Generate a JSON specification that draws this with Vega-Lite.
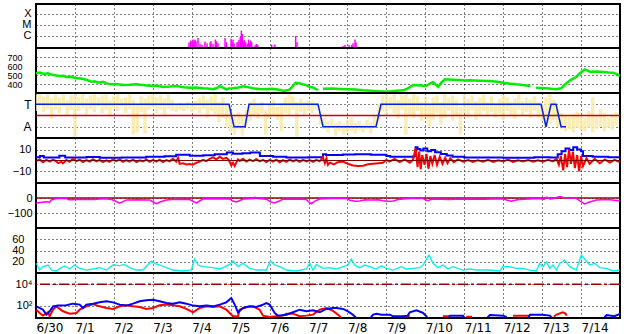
{
"$schema": "https://vega.github.io/schema/vega-lite/v6.json",
"background": "white",
"padding": {"left": 5, "top": 3, "right": 6, "bottom": 0},
"autosize": {"type": "pad"},
"spacing": 0,
"bounds": "flush",
"config": {
  "view": {"stroke": "#000", "strokeWidth": 2},
  "concat": {"spacing": 0},
  "axis": {"domain": false, "ticks": false, "title": null, "grid": true, "gridColor": "#000", "gridDash": [1, 3], "gridWidth": 1, "gridOpacity": 1, "labelFont": "Liberation Sans", "labelFontSize": 11, "labelColor": "#000", "labelFlush": false, "labelOverlap": false},
  "axisY": {"minExtent": 28, "maxExtent": 28}
},
"datasets": {
  "xray": [
    {"d":3.93,"f":-6.61},{"d":3.973,"f":-6.42},{"d":4.007,"f":-6.49},{"d":4.033,"f":-6.33},{"d":4.059,"f":-6.42},{"d":4.084,"f":-6.36},{"d":4.11,"f":-6.49},{"d":4.161,"f":-6.18},{"d":4.213,"f":-6.73},{"d":4.264,"f":-6.82},{"d":4.341,"f":-6.52},{"d":4.393,"f":-6.67},{"d":4.47,"f":-6.61},{"d":4.495,"f":-6.49},{"d":4.547,"f":-6.73},{"d":4.607,"f":-6.33},{"d":4.633,"f":-6.49},{"d":4.675,"f":-6.67},{"d":4.855,"f":-6.18},{"d":4.889,"f":-6.58},{"d":5.009,"f":-6.27},{"d":5.035,"f":-6.58},{"d":5.06,"f":-6.36},{"d":5.086,"f":-6.67},{"d":5.163,"f":-6.58},{"d":5.189,"f":-6.55},{"d":5.214,"f":-6.36},{"d":5.248,"f":-6.06},{"d":5.274,"f":-5.52},{"d":5.3,"f":-5.82},{"d":5.325,"f":-6.58},{"d":5.351,"f":-6.39},{"d":5.386,"f":-6.58},{"d":5.428,"f":-6.73},{"d":5.462,"f":-6.33},{"d":5.488,"f":-6.67},{"d":5.514,"f":-6.42},{"d":5.539,"f":-6.58},{"d":5.626,"f":-6.85},{"d":5.66,"f":-6.73},{"d":5.694,"f":-6.82},{"d":6.054,"f":-6.79},{"d":6.131,"f":-6.79},{"d":6.67,"f":-6.0},{"d":6.704,"f":-6.58},{"d":7.886,"f":-6.91},{"d":7.937,"f":-6.82},{"d":8.04,"f":-6.82},{"d":8.109,"f":-6.82},{"d":8.143,"f":-6.67},{"d":8.194,"f":-6.33},{"d":8.22,"f":-6.61}
  ],
  "speed": [
    {"d":0,"v":520},{"d":0.1,"v":528},{"d":0.2,"v":512},{"d":0.3,"v":518},{"d":0.4,"v":505},{"d":0.52,"v":495},{"d":0.6,"v":488},{"d":0.7,"v":492},{"d":0.78,"v":478},{"d":0.9,"v":480},{"d":1.04,"v":463},{"d":1.15,"v":462},{"d":1.29,"v":448},{"d":1.42,"v":426},{"d":1.5,"v":430},{"d":1.6,"v":414},{"d":1.72,"v":425},{"d":1.8,"v":410},{"d":1.9,"v":396},{"d":2.05,"v":400},{"d":2.24,"v":389},{"d":2.4,"v":392},{"d":2.58,"v":398},{"d":2.8,"v":385},{"d":3.0,"v":378},{"d":3.1,"v":382},{"d":3.26,"v":367},{"d":3.45,"v":372},{"d":3.6,"v":378},{"d":3.8,"v":365},{"d":3.95,"v":359},{"d":4.1,"v":362},{"d":4.29,"v":352},{"d":4.4,"v":350},{"d":4.55,"v":341},{"d":4.65,"v":355},{"d":4.72,"v":378},{"d":4.8,"v":360},{"d":4.89,"v":341},{"d":4.95,"v":350},{"d":5.06,"v":352},{"d":5.2,"v":362},{"d":5.32,"v":374},{"d":5.45,"v":365},{"d":5.57,"v":352},{"d":5.75,"v":345},{"d":5.92,"v":341},{"d":6.05,"v":348},{"d":6.17,"v":341},{"d":6.3,"v":330},{"d":6.35,"v":322},{"d":6.45,"v":330},{"d":6.52,"v":341},{"d":6.6,"v":380},{"d":6.67,"v":414},{"d":6.76,"v":408},{"d":6.86,"v":396},{"d":6.95,"v":385},{"d":7.03,"v":367},{"d":7.12,"v":362},{"d":7.24,"v":330},{"d":7.3,"v":null},{"d":7.37,"v":348},{"d":7.6,"v":350},{"d":7.8,"v":345},{"d":8.01,"v":341},{"d":8.2,"v":338},{"d":8.4,"v":330},{"d":8.6,"v":325},{"d":8.8,"v":320},{"d":8.99,"v":315},{"d":9.2,"v":322},{"d":9.43,"v":330},{"d":9.55,"v":350},{"d":9.68,"v":389},{"d":9.8,"v":385},{"d":10.02,"v":378},{"d":10.1,"v":400},{"d":10.2,"v":422},{"d":10.33,"v":367},{"d":10.42,"v":420},{"d":10.51,"v":452},{"d":10.7,"v":448},{"d":10.89,"v":444},{"d":11.0,"v":440},{"d":11.15,"v":441},{"d":11.4,"v":436},{"d":11.66,"v":433},{"d":11.85,"v":425},{"d":12.0,"v":414},{"d":12.15,"v":405},{"d":12.33,"v":396},{"d":12.5,"v":390},{"d":12.7,"v":378},{"d":12.78,"v":null},{"d":12.84,"v":359},{"d":13.1,"v":352},{"d":13.36,"v":341},{"d":13.49,"v":352},{"d":13.6,"v":400},{"d":13.72,"v":441},{"d":13.8,"v":460},{"d":13.87,"v":478},{"d":14.0,"v":530},{"d":14.1,"v":563},{"d":14.23,"v":537},{"d":14.4,"v":540},{"d":14.57,"v":533},{"d":14.7,"v":528},{"d":14.82,"v":525},{"d":14.92,"v":510},{"d":15.0,"v":489}
  ],
  "yellow": [
    {"d":0.0,"lo":2.4,"hi":3.9},{"d":0.1,"lo":2.9,"hi":3.9},{"d":0.2,"lo":2.3,"hi":3.7},{"d":0.3,"lo":2.6,"hi":3.9},{"d":0.4,"lo":1.7,"hi":3.5},{"d":0.5,"lo":2.5,"hi":3.9},{"d":0.6,"lo":2.2,"hi":3.6},{"d":0.7,"lo":2.8,"hi":3.9},{"d":0.8,"lo":2.0,"hi":3.4},{"d":0.9,"lo":2.5,"hi":3.8},{"d":1.0,"lo":0.1,"hi":3.9},{"d":1.1,"lo":2.4,"hi":3.6},{"d":1.2,"lo":2.7,"hi":3.9},{"d":1.3,"lo":2.1,"hi":3.5},{"d":1.4,"lo":2.6,"hi":3.8},{"d":1.5,"lo":2.3,"hi":3.9},{"d":1.6,"lo":2.8,"hi":3.6},{"d":1.7,"lo":2.2,"hi":3.8},{"d":1.8,"lo":2.5,"hi":3.9},{"d":1.9,"lo":1.9,"hi":3.4},{"d":2.0,"lo":2.6,"hi":3.7},{"d":2.1,"lo":2.4,"hi":3.9},{"d":2.2,"lo":2.8,"hi":3.5},{"d":2.3,"lo":2.2,"hi":3.6},{"d":2.4,"lo":2.6,"hi":3.9},{"d":2.5,"lo":0.3,"hi":3.4},{"d":2.6,"lo":0.5,"hi":3.0},{"d":2.7,"lo":2.3,"hi":3.7},{"d":2.8,"lo":0.4,"hi":3.5},{"d":2.9,"lo":2.5,"hi":3.8},{"d":3.0,"lo":2.7,"hi":3.9},{"d":3.1,"lo":2.2,"hi":3.6},{"d":3.2,"lo":2.5,"hi":3.8},{"d":3.3,"lo":2.0,"hi":3.5},{"d":3.4,"lo":2.6,"hi":3.9},{"d":3.5,"lo":2.4,"hi":3.4},{"d":3.6,"lo":2.3,"hi":3.0},{"d":3.7,"lo":2.5,"hi":3.1},{"d":3.8,"lo":2.4,"hi":3.0},{"d":3.9,"lo":2.6,"hi":3.2},{"d":4.0,"lo":2.3,"hi":3.0},{"d":4.1,"lo":2.5,"hi":3.3},{"d":4.2,"lo":2.2,"hi":3.6},{"d":4.3,"lo":2.6,"hi":3.8},{"d":4.4,"lo":1.8,"hi":3.4},{"d":4.5,"lo":2.4,"hi":3.7},{"d":4.6,"lo":2.1,"hi":3.9},{"d":4.7,"lo":1.4,"hi":3.2},{"d":4.8,"lo":1.8,"hi":3.6},{"d":4.9,"lo":1.0,"hi":3.0},{"d":5.0,"lo":0.5,"hi":2.4},{"d":5.1,"lo":0.3,"hi":1.9},{"d":5.2,"lo":0.8,"hi":2.3},{"d":5.3,"lo":0.2,"hi":2.0},{"d":5.4,"lo":1.0,"hi":2.5},{"d":5.5,"lo":1.5,"hi":3.2},{"d":5.6,"lo":2.0,"hi":3.5},{"d":5.7,"lo":1.7,"hi":3.0},{"d":5.8,"lo":2.2,"hi":3.2},{"d":5.9,"lo":0.3,"hi":2.5},{"d":6.0,"lo":1.8,"hi":3.0},{"d":6.1,"lo":2.0,"hi":3.4},{"d":6.2,"lo":1.6,"hi":2.8},{"d":6.3,"lo":0.6,"hi":3.1},{"d":6.4,"lo":2.2,"hi":3.6},{"d":6.5,"lo":2.0,"hi":3.9},{"d":6.6,"lo":2.5,"hi":3.7},{"d":6.7,"lo":0.1,"hi":3.2},{"d":6.8,"lo":2.3,"hi":3.5},{"d":6.9,"lo":2.0,"hi":3.2},{"d":7.0,"lo":2.4,"hi":3.4},{"d":7.1,"lo":2.2,"hi":3.3},{"d":7.2,"lo":2.5,"hi":3.1},{"d":7.3,"lo":1.2,"hi":2.1},{"d":7.4,"lo":0.8,"hi":1.8},{"d":7.5,"lo":0.5,"hi":1.5},{"d":7.6,"lo":0.9,"hi":1.7},{"d":7.7,"lo":0.2,"hi":1.3},{"d":7.8,"lo":0.6,"hi":1.5},{"d":7.9,"lo":0.3,"hi":1.2},{"d":8.0,"lo":0.5,"hi":1.6},{"d":8.1,"lo":0.6,"hi":1.8},{"d":8.2,"lo":0.4,"hi":1.3},{"d":8.3,"lo":0.7,"hi":1.5},{"d":8.4,"lo":0.5,"hi":1.2},{"d":8.5,"lo":0.8,"hi":1.6},{"d":8.6,"lo":0.4,"hi":1.4},{"d":8.7,"lo":0.9,"hi":2.0},{"d":8.8,"lo":1.5,"hi":3.0},{"d":8.9,"lo":2.4,"hi":3.8},{"d":9.0,"lo":2.0,"hi":3.9},{"d":9.1,"lo":2.6,"hi":3.6},{"d":9.2,"lo":2.2,"hi":3.9},{"d":9.3,"lo":1.7,"hi":3.4},{"d":9.4,"lo":2.5,"hi":3.8},{"d":9.5,"lo":0.3,"hi":3.9},{"d":9.6,"lo":2.0,"hi":3.5},{"d":9.7,"lo":1.8,"hi":3.9},{"d":9.8,"lo":2.4,"hi":3.7},{"d":9.9,"lo":1.5,"hi":3.2},{"d":10.0,"lo":1.9,"hi":3.6},{"d":10.1,"lo":1.0,"hi":3.0},{"d":10.2,"lo":1.6,"hi":3.6},{"d":10.3,"lo":2.2,"hi":3.8},{"d":10.4,"lo":1.2,"hi":3.2},{"d":10.5,"lo":1.8,"hi":3.9},{"d":10.6,"lo":2.4,"hi":3.6},{"d":10.7,"lo":1.5,"hi":3.8},{"d":10.8,"lo":2.0,"hi":3.4},{"d":10.9,"lo":0.3,"hi":2.8},{"d":11.0,"lo":2.2,"hi":3.9},{"d":11.1,"lo":1.8,"hi":3.5},{"d":11.2,"lo":2.5,"hi":3.8},{"d":11.3,"lo":1.6,"hi":3.3},{"d":11.4,"lo":2.0,"hi":3.6},{"d":11.5,"lo":2.4,"hi":3.9},{"d":11.6,"lo":1.9,"hi":3.2},{"d":11.7,"lo":2.3,"hi":3.7},{"d":11.8,"lo":1.8,"hi":3.0},{"d":11.9,"lo":2.2,"hi":3.5},{"d":12.0,"lo":1.6,"hi":3.8},{"d":12.1,"lo":2.4,"hi":3.6},{"d":12.2,"lo":2.0,"hi":3.2},{"d":12.3,"lo":1.7,"hi":3.5},{"d":12.4,"lo":2.5,"hi":3.9},{"d":12.5,"lo":2.0,"hi":3.3},{"d":12.6,"lo":2.3,"hi":3.6},{"d":12.7,"lo":1.8,"hi":3.4},{"d":12.8,"lo":2.4,"hi":3.7},{"d":12.9,"lo":1.8,"hi":3.2},{"d":13.0,"lo":1.5,"hi":3.0},{"d":13.1,"lo":1.0,"hi":3.6},{"d":13.2,"lo":1.2,"hi":3.9},{"d":13.3,"lo":1.6,"hi":3.4},{"d":13.4,"lo":1.0,"hi":2.6},{"d":13.5,"lo":0.8,"hi":2.2},{"d":13.6,"lo":0.6,"hi":2.0},{"d":13.7,"lo":0.8,"hi":1.9},{"d":13.8,"lo":0.5,"hi":2.1},{"d":13.9,"lo":0.9,"hi":2.3},{"d":14.0,"lo":0.7,"hi":2.0},{"d":14.1,"lo":0.6,"hi":1.8},{"d":14.2,"lo":0.9,"hi":2.4},{"d":14.3,"lo":0.5,"hi":3.6},{"d":14.4,"lo":0.8,"hi":2.0},{"d":14.5,"lo":1.0,"hi":2.6},{"d":14.6,"lo":0.6,"hi":2.2},{"d":14.7,"lo":0.9,"hi":1.8},{"d":14.8,"lo":0.7,"hi":2.1},{"d":14.9,"lo":1.1,"hi":2.3}
  ],
  "sector": [
    {"d":0,"s":3},{"d":4.958,"s":3},{"d":5.086,"s":1},{"d":5.369,"s":1},{"d":5.471,"s":3},{"d":7.244,"s":3},{"d":7.372,"s":1},{"d":8.734,"s":1},{"d":8.862,"s":3},{"d":12.972,"s":3},{"d":13.1,"s":1},{"d":13.229,"s":3},{"d":13.357,"s":3},{"d":13.486,"s":1},{"d":13.614,"s":1}
  ],
  "bt": [
    {"d":0.0,"v":3.0},{"d":0.1,"v":4.0},{"d":0.2,"v":2.8},{"d":0.6,"v":4.3},{"d":0.75,"v":2.8},{"d":1.3,"v":3.2},{"d":1.64,"v":2.5},{"d":2.2,"v":2.8},{"d":2.83,"v":3.4},{"d":3.3,"v":3.8},{"d":3.6,"v":5.2},{"d":3.95,"v":4.3},{"d":4.3,"v":4.8},{"d":4.59,"v":5.8},{"d":4.9,"v":7.3},{"d":5.06,"v":6.2},{"d":5.3,"v":6.5},{"d":5.5,"v":7.4},{"d":5.75,"v":4.0},{"d":6.09,"v":3.5},{"d":6.43,"v":2.8},{"d":7.0,"v":3.0},{"d":7.37,"v":5.8},{"d":7.45,"v":4.9},{"d":7.88,"v":5.5},{"d":8.2,"v":5.8},{"d":8.6,"v":5.2},{"d":9.0,"v":4.0},{"d":9.1,"v":3.4},{"d":9.7,"v":4.0},{"d":9.75,"v":12.0},{"d":9.8,"v":10.5},{"d":9.87,"v":9.0},{"d":9.95,"v":11.0},{"d":10.05,"v":8.5},{"d":10.15,"v":9.5},{"d":10.25,"v":7.5},{"d":10.4,"v":6.0},{"d":10.55,"v":4.5},{"d":10.7,"v":3.5},{"d":11.0,"v":2.8},{"d":12.0,"v":2.5},{"d":12.8,"v":3.0},{"d":13.2,"v":2.8},{"d":13.4,"v":5.8},{"d":13.5,"v":8.5},{"d":13.6,"v":11.0},{"d":13.7,"v":9.5},{"d":13.8,"v":12.0},{"d":13.9,"v":10.0},{"d":14.0,"v":8.5},{"d":14.05,"v":4.0},{"d":14.3,"v":3.5},{"d":14.7,"v":3.0},{"d":15.0,"v":3.2}
  ],
  "bz": [
    {"d":0.009,"v":-0.5},{"d":0.094,"v":1.0},{"d":0.18,"v":-1.5},{"d":0.265,"v":0.5},{"d":0.351,"v":-1.0},{"d":0.437,"v":0.8},{"d":0.522,"v":-0.8},{"d":0.565,"v":-2.4},{"d":0.65,"v":-1.2},{"d":0.694,"v":-2.6},{"d":0.779,"v":0.5},{"d":0.865,"v":-1.2},{"d":0.95,"v":1.5},{"d":1.036,"v":-0.5},{"d":1.122,"v":0.8},{"d":1.207,"v":-1.4},{"d":1.293,"v":0.3},{"d":1.38,"v":-1.0},{"d":1.464,"v":1.2},{"d":1.55,"v":-0.8},{"d":1.635,"v":0.6},{"d":1.72,"v":-1.5},{"d":1.807,"v":0.2},{"d":1.89,"v":-1.2},{"d":1.978,"v":0.9},{"d":2.06,"v":-0.6},{"d":2.149,"v":1.0},{"d":2.23,"v":-1.3},{"d":2.32,"v":0.4},{"d":2.4,"v":-1.0},{"d":2.492,"v":0.8},{"d":2.58,"v":-1.4},{"d":2.663,"v":0.2},{"d":2.75,"v":-0.9},{"d":2.834,"v":1.0},{"d":2.92,"v":-1.2},{"d":3.005,"v":0.5},{"d":3.09,"v":-1.0},{"d":3.177,"v":0.8},{"d":3.26,"v":-1.5},{"d":3.348,"v":0.3},{"d":3.43,"v":-0.8},{"d":3.519,"v":1.5},{"d":3.6,"v":-1.0},{"d":3.65,"v":2.5},{"d":3.69,"v":-3.0},{"d":3.78,"v":-2.5},{"d":3.862,"v":-3.6},{"d":3.95,"v":-3.2},{"d":4.033,"v":-3.8},{"d":4.12,"v":-2.0},{"d":4.204,"v":-1.0},{"d":4.29,"v":0.5},{"d":4.375,"v":-0.6},{"d":4.46,"v":1.5},{"d":4.547,"v":2.8},{"d":4.63,"v":1.0},{"d":4.718,"v":3.5},{"d":4.8,"v":1.5},{"d":4.889,"v":2.5},{"d":4.95,"v":0.5},{"d":5.017,"v":-4.5},{"d":5.06,"v":-2.0},{"d":5.103,"v":-5.0},{"d":5.15,"v":-1.5},{"d":5.188,"v":1.0},{"d":5.231,"v":-0.5},{"d":5.317,"v":1.5},{"d":5.403,"v":-1.0},{"d":5.488,"v":0.8},{"d":5.574,"v":-0.5},{"d":5.66,"v":1.2},{"d":5.745,"v":-0.8},{"d":5.831,"v":0.5},{"d":5.916,"v":-1.4},{"d":6.002,"v":0.6},{"d":6.087,"v":-1.0},{"d":6.173,"v":0.8},{"d":6.259,"v":-1.6},{"d":6.345,"v":0.4},{"d":6.43,"v":-1.2},{"d":6.516,"v":0.9},{"d":6.601,"v":-0.7},{"d":6.687,"v":0.6},{"d":6.773,"v":-1.3},{"d":6.858,"v":0.5},{"d":6.944,"v":-0.8},{"d":7.03,"v":0.3},{"d":7.115,"v":-1.2},{"d":7.2,"v":0.6},{"d":7.287,"v":-0.8},{"d":7.37,"v":3.0},{"d":7.42,"v":-2.5},{"d":7.46,"v":2.0},{"d":7.5,"v":-4.0},{"d":7.55,"v":-2.0},{"d":7.65,"v":-3.5},{"d":7.75,"v":-1.5},{"d":7.885,"v":-1.0},{"d":8.01,"v":-3.0},{"d":8.14,"v":-4.5},{"d":8.27,"v":-5.0},{"d":8.4,"v":-4.8},{"d":8.53,"v":-3.5},{"d":8.66,"v":-3.0},{"d":8.79,"v":-2.5},{"d":8.91,"v":-2.0},{"d":9.0,"v":0.5},{"d":9.08,"v":-1.0},{"d":9.21,"v":1.5},{"d":9.34,"v":-1.5},{"d":9.47,"v":1.0},{"d":9.6,"v":-2.0},{"d":9.68,"v":0.5},{"d":9.75,"v":11.0},{"d":9.8,"v":-6.0},{"d":9.84,"v":8.0},{"d":9.88,"v":-8.0},{"d":9.92,"v":5.0},{"d":9.98,"v":-4.0},{"d":10.03,"v":6.0},{"d":10.08,"v":-7.5},{"d":10.13,"v":4.0},{"d":10.18,"v":-3.0},{"d":10.24,"v":5.0},{"d":10.3,"v":-4.0},{"d":10.37,"v":3.5},{"d":10.44,"v":-3.0},{"d":10.51,"v":2.5},{"d":10.57,"v":-2.5},{"d":10.64,"v":2.0},{"d":10.73,"v":-1.5},{"d":10.84,"v":1.0},{"d":10.97,"v":-1.0},{"d":11.1,"v":0.5},{"d":11.22,"v":-1.2},{"d":11.35,"v":0.3},{"d":11.48,"v":-1.0},{"d":11.61,"v":0.6},{"d":11.74,"v":-1.3},{"d":11.87,"v":0.2},{"d":12.0,"v":-0.8},{"d":12.12,"v":0.8},{"d":12.25,"v":-1.2},{"d":12.38,"v":0.2},{"d":12.51,"v":-0.8},{"d":12.64,"v":0.5},{"d":12.77,"v":-1.0},{"d":12.89,"v":0.2},{"d":13.02,"v":-1.2},{"d":13.15,"v":0.6},{"d":13.28,"v":-0.8},{"d":13.37,"v":1.5},{"d":13.43,"v":-4.0},{"d":13.48,"v":4.0},{"d":13.54,"v":-9.0},{"d":13.59,"v":6.0},{"d":13.64,"v":-6.0},{"d":13.69,"v":10.0},{"d":13.74,"v":-3.0},{"d":13.79,"v":8.0},{"d":13.84,"v":-7.0},{"d":13.9,"v":5.0},{"d":13.95,"v":-10.0},{"d":14.0,"v":4.0},{"d":14.05,"v":-5.0},{"d":14.14,"v":2.0},{"d":14.22,"v":-3.0},{"d":14.35,"v":1.5},{"d":14.48,"v":-2.5},{"d":14.61,"v":1.0},{"d":14.74,"v":-2.0},{"d":14.86,"v":0.5},{"d":14.99,"v":-1.5}
  ],
  "dst": [
    {"d":0.0,"v":-35},{"d":0.1,"v":-30},{"d":0.27,"v":-25},{"d":0.35,"v":-28},{"d":0.39,"v":-13},{"d":0.52,"v":-4},{"d":0.78,"v":-4},{"d":0.85,"v":-12},{"d":0.95,"v":-12},{"d":1.05,"v":-8},{"d":1.21,"v":-10},{"d":1.5,"v":-10},{"d":1.64,"v":-7},{"d":1.8,"v":-5},{"d":1.94,"v":-10},{"d":2.05,"v":-22},{"d":2.15,"v":-35},{"d":2.25,"v":-22},{"d":2.32,"v":-13},{"d":2.6,"v":-12},{"d":2.92,"v":-13},{"d":3.0,"v":-25},{"d":3.09,"v":-38},{"d":3.2,"v":-25},{"d":3.35,"v":-13},{"d":3.6,"v":-8},{"d":3.95,"v":-10},{"d":4.05,"v":-25},{"d":4.12,"v":-33},{"d":4.2,"v":-20},{"d":4.29,"v":-7},{"d":4.6,"v":-5},{"d":4.98,"v":-7},{"d":5.05,"v":-20},{"d":5.15,"v":-27},{"d":5.25,"v":-15},{"d":5.32,"v":-7},{"d":5.6,"v":-4},{"d":5.62,"v":5},{"d":5.7,"v":-4},{"d":5.92,"v":-8},{"d":6.02,"v":-25},{"d":6.13,"v":-33},{"d":6.25,"v":-20},{"d":6.34,"v":-9},{"d":6.7,"v":-7},{"d":6.94,"v":-10},{"d":7.0,"v":-25},{"d":7.07,"v":-38},{"d":7.15,"v":-22},{"d":7.29,"v":-7},{"d":7.63,"v":-3},{"d":8.0,"v":-3},{"d":8.06,"v":-15},{"d":8.2,"v":-22},{"d":8.31,"v":-20},{"d":8.45,"v":-12},{"d":8.57,"v":-13},{"d":8.8,"v":-12},{"d":8.91,"v":-18},{"d":9.05,"v":-22},{"d":9.17,"v":-20},{"d":9.3,"v":-10},{"d":9.43,"v":-7},{"d":9.6,"v":-3},{"d":9.94,"v":-3},{"d":10.0,"v":-12},{"d":10.07,"v":-18},{"d":10.15,"v":-8},{"d":10.2,"v":-7},{"d":10.6,"v":-10},{"d":11.0,"v":-7},{"d":11.5,"v":-8},{"d":12.0,"v":-5},{"d":12.1,"v":-15},{"d":12.21,"v":-22},{"d":12.33,"v":-14},{"d":12.42,"v":-10},{"d":12.8,"v":-5},{"d":12.94,"v":-3},{"d":13.05,"v":-10},{"d":13.11,"v":5},{"d":13.2,"v":-6},{"d":13.3,"v":-3},{"d":13.45,"v":10},{"d":13.55,"v":3},{"d":13.7,"v":0},{"d":13.88,"v":-2},{"d":14.0,"v":-25},{"d":14.09,"v":-40},{"d":14.2,"v":-28},{"d":14.39,"v":-13},{"d":14.7,"v":-10},{"d":15.0,"v":-20}
  ],
  "dens": [
    {"d":0.009,"v":17.2},{"d":0.094,"v":5.3},{"d":0.18,"v":11.3},{"d":0.308,"v":14.2},{"d":0.394,"v":5.3},{"d":0.522,"v":3.6},{"d":0.651,"v":9.5},{"d":0.737,"v":12.4},{"d":0.865,"v":7.1},{"d":0.993,"v":14.2},{"d":1.122,"v":8.3},{"d":1.293,"v":5.3},{"d":1.464,"v":7.1},{"d":1.635,"v":9.5},{"d":1.807,"v":5.3},{"d":1.978,"v":14.2},{"d":2.149,"v":13},{"d":2.277,"v":15.4},{"d":2.406,"v":9.5},{"d":2.577,"v":5.3},{"d":2.748,"v":5.3},{"d":2.962,"v":21.3},{"d":3.048,"v":17.2},{"d":3.177,"v":14.2},{"d":3.348,"v":9.5},{"d":3.519,"v":5.3},{"d":3.776,"v":3.6},{"d":3.99,"v":5.3},{"d":4.076,"v":24.9},{"d":4.161,"v":14.2},{"d":4.29,"v":11.3},{"d":4.547,"v":9.5},{"d":4.718,"v":7.1},{"d":4.975,"v":15.4},{"d":5.06,"v":21.3},{"d":5.188,"v":11.3},{"d":5.317,"v":17.2},{"d":5.488,"v":8.3},{"d":5.66,"v":5.3},{"d":5.916,"v":5.3},{"d":6.019,"v":21.3},{"d":6.13,"v":14.2},{"d":6.259,"v":11.3},{"d":6.43,"v":5.3},{"d":6.687,"v":3.6},{"d":6.944,"v":7.1},{"d":7.03,"v":17.2},{"d":7.115,"v":5.3},{"d":7.2,"v":15.4},{"d":7.372,"v":8.3},{"d":7.543,"v":9.5},{"d":7.714,"v":7.1},{"d":7.886,"v":11.3},{"d":8.014,"v":14.2},{"d":8.1,"v":24.9},{"d":8.185,"v":14.2},{"d":8.314,"v":9.5},{"d":8.442,"v":14.2},{"d":8.571,"v":11.3},{"d":8.742,"v":7.1},{"d":8.87,"v":13},{"d":9.0,"v":8.3},{"d":9.17,"v":5.3},{"d":9.384,"v":11.3},{"d":9.512,"v":7.1},{"d":9.684,"v":8.3},{"d":9.855,"v":9.5},{"d":9.94,"v":14.2},{"d":10.095,"v":32},{"d":10.197,"v":17.2},{"d":10.326,"v":9.5},{"d":10.454,"v":14.2},{"d":10.583,"v":7.1},{"d":10.711,"v":11.3},{"d":10.968,"v":5.3},{"d":11.139,"v":7.1},{"d":11.31,"v":5.3},{"d":11.653,"v":5.3},{"d":11.91,"v":3.6},{"d":11.995,"v":11.3},{"d":12.166,"v":11.3},{"d":12.338,"v":8.3},{"d":12.509,"v":8.3},{"d":12.68,"v":5.3},{"d":12.852,"v":3.6},{"d":12.937,"v":17.2},{"d":13.023,"v":11.3},{"d":13.108,"v":20.1},{"d":13.194,"v":8.3},{"d":13.28,"v":14.2},{"d":13.365,"v":5.3},{"d":13.451,"v":17.2},{"d":13.579,"v":23.1},{"d":13.708,"v":11.3},{"d":13.879,"v":5.3},{"d":14.007,"v":32},{"d":14.093,"v":24.9},{"d":14.221,"v":14.2},{"d":14.35,"v":17.2},{"d":14.478,"v":9.5},{"d":14.649,"v":8.3},{"d":14.82,"v":3.6},{"d":14.992,"v":5.3}
  ],
  "eblue": [
    {"d":0.009,"L":1.96},{"d":0.18,"L":1.65},{"d":0.265,"L":1.19},{"d":0.351,"L":1.5},{"d":0.437,"L":1.96},{"d":0.565,"L":2.03},{"d":0.779,"L":2.06},{"d":0.95,"L":2.21},{"d":1.122,"L":2.12},{"d":1.207,"L":1.81},{"d":1.293,"L":2.12},{"d":1.464,"L":2.21},{"d":1.635,"L":2.33},{"d":1.807,"L":2.43},{"d":1.978,"L":2.33},{"d":2.149,"L":2.12},{"d":2.32,"L":2.03},{"d":2.492,"L":2.21},{"d":2.663,"L":2.43},{"d":2.834,"L":2.52},{"d":3.005,"L":2.58},{"d":3.177,"L":2.43},{"d":3.348,"L":2.27},{"d":3.519,"L":2.21},{"d":3.69,"L":2.33},{"d":3.862,"L":2.21},{"d":4.033,"L":2.03},{"d":4.204,"L":1.96},{"d":4.375,"L":2.03},{"d":4.547,"L":1.96},{"d":4.718,"L":2.12},{"d":4.889,"L":2.33},{"d":5.017,"L":2.73},{"d":5.103,"L":2.12},{"d":5.188,"L":1.41},{"d":5.317,"L":1.81},{"d":5.488,"L":1.96},{"d":5.66,"L":1.9},{"d":5.831,"L":2.12},{"d":5.916,"L":2.27},{"d":6.002,"L":2.12},{"d":6.13,"L":1.35},{"d":6.216,"L":1.1},{"d":6.43,"L":1.19},{"d":6.601,"L":1.41},{"d":6.773,"L":1.65},{"d":6.944,"L":1.5},{"d":7.115,"L":1.59},{"d":7.287,"L":1.41},{"d":7.458,"L":1.72},{"d":7.629,"L":1.81},{"d":7.714,"L":1.81},{"d":7.886,"L":1.72},{"d":8.014,"L":1.5},{"d":8.14,"L":1.19},{"d":8.23,"L":0.88},{"d":8.4,"L":null},{"d":8.6,"L":0.95},{"d":8.66,"L":1.19},{"d":8.75,"L":1.28},{"d":8.87,"L":1.19},{"d":9.0,"L":1.19},{"d":9.09,"L":1.19},{"d":9.17,"L":1.04},{"d":9.43,"L":1.04},{"d":9.55,"L":1.1},{"d":9.6,"L":1.41},{"d":9.77,"L":1.59},{"d":9.9,"L":1.41},{"d":9.94,"L":1.35},{"d":10.03,"L":1.04},{"d":10.05,"L":0.88},{"d":10.3,"L":null},{"d":10.6,"L":1.0},{"d":10.63,"L":1.1},{"d":10.97,"L":1.1},{"d":11.0,"L":0.9},{"d":11.3,"L":null},{"d":11.6,"L":0.95},{"d":11.66,"L":1.15},{"d":12.0,"L":1.1},{"d":12.09,"L":0.95},{"d":12.3,"L":null},{"d":12.65,"L":0.95},{"d":12.69,"L":1.19},{"d":13.0,"L":1.19},{"d":13.2,"L":1.1},{"d":13.25,"L":0.9},{"d":13.5,"L":null},{"d":14.6,"L":0.95},{"d":14.66,"L":1.15},{"d":14.85,"L":1.04},{"d":15.0,"L":1.25}
  ],
  "ered": [
    {"d":0.009,"L":1.65},{"d":0.094,"L":1.35},{"d":0.18,"L":1.1},{"d":0.308,"L":1.41},{"d":0.351,"L":1.04},{"d":0.437,"L":1.65},{"d":0.522,"L":1.96},{"d":0.694,"L":1.5},{"d":0.865,"L":1.28},{"d":1.036,"L":1.35},{"d":1.122,"L":1.65},{"d":1.293,"L":1.96},{"d":1.464,"L":2.18},{"d":1.635,"L":1.96},{"d":1.807,"L":1.81},{"d":1.978,"L":1.72},{"d":2.149,"L":1.96},{"d":2.32,"L":2.06},{"d":2.492,"L":1.96},{"d":2.663,"L":1.9},{"d":2.834,"L":1.72},{"d":3.005,"L":1.81},{"d":3.177,"L":2.06},{"d":3.348,"L":2.12},{"d":3.519,"L":2.06},{"d":3.69,"L":1.96},{"d":3.862,"L":1.72},{"d":4.033,"L":1.41},{"d":4.204,"L":1.81},{"d":4.375,"L":1.96},{"d":4.547,"L":1.9},{"d":4.718,"L":1.96},{"d":4.889,"L":1.65},{"d":5.06,"L":1.04},{"d":5.188,"L":1.04},{"d":5.231,"L":1.65},{"d":5.403,"L":1.9},{"d":5.574,"L":1.96},{"d":5.745,"L":1.65},{"d":5.831,"L":1.1},{"d":6.002,"L":0.98},{"d":6.173,"L":1.04},{"d":6.345,"L":1.1},{"d":6.43,"L":1.28},{"d":6.601,"L":1.28},{"d":6.773,"L":1.04},{"d":6.944,"L":1.1},{"d":7.115,"L":1.19},{"d":7.287,"L":1.65},{"d":7.458,"L":1.81},{"d":7.6,"L":1.6},{"d":7.76,"L":1.19},{"d":7.84,"L":0.88},{"d":8.0,"L":null},{"d":9.43,"L":1.04},{"d":9.6,"L":1.04},{"d":9.7,"L":null},{"d":10.45,"L":1.04},{"d":10.63,"L":1.04},{"d":10.7,"L":null},{"d":11.05,"L":1.0},{"d":11.2,"L":1.0},{"d":11.3,"L":null},{"d":12.25,"L":1.1},{"d":12.68,"L":1.1},{"d":12.8,"L":null},{"d":13.3,"L":1.0},{"d":13.37,"L":1.2},{"d":13.53,"L":1.41},{"d":13.6,"L":1.3},{"d":13.63,"L":1.1},{"d":13.7,"L":null}
  ]
},
"vconcat": [
  {
    "width": 584, "height": 44,
    "data": {"name": "xray"},
    "mark": {"type": "rule", "color": "#ff00ff", "strokeWidth": 1.5, "clip": true},
    "encoding": {
      "x": {"field": "d", "type": "quantitative", "scale": {"domain": [0, 15], "nice": false}, "axis": {"values": [0,1,2,3,4,5,6,7,8,9,10,11,12,13,14], "labels": false, "minExtent": 0, "maxExtent": 0}},
      "y": {"field": "f", "type": "quantitative", "scale": {"domain": [-7.1, -3.1], "nice": false, "zero": false}, "axis": {"values": [-6, -5, -4], "labelExpr": "datum.value == -6 ? 'C' : datum.value == -5 ? 'M' : 'X'", "labelPadding": 5}},
      "y2": {"datum": -7.1}
    }
  },
  {
    "width": 584, "height": 45,
    "data": {"name": "speed"},
    "mark": {"type": "line", "color": "#00ee00", "strokeWidth": 2.5, "clip": true},
    "encoding": {
      "x": {"field": "d", "type": "quantitative", "scale": {"domain": [0, 15], "nice": false}, "axis": {"values": [0,1,2,3,4,5,6,7,8,9,10,11,12,13,14], "labels": false, "minExtent": 0, "maxExtent": 0}},
      "y": {"field": "v", "type": "quantitative", "scale": {"domain": [300, 800], "nice": false, "zero": false}, "axis": {"values": [400, 500, 600, 700], "labelPadding": 14, "labelFontSize": 9}}
    }
  },
  {
    "width": 584, "height": 45,
    "layer": [
      {
        "data": {"name": "yellow"},
        "mark": {"type": "rule", "color": "#f9eaa8", "strokeWidth": 3.5, "opacity": 0.85, "clip": true},
        "encoding": {
          "x": {"field": "d", "type": "quantitative", "scale": {"domain": [0, 15], "nice": false}, "axis": {"values": [0,1,2,3,4,5,6,7,8,9,10,11,12,13,14], "labels": false, "minExtent": 0, "maxExtent": 0}},
          "y": {"field": "lo", "type": "quantitative", "scale": {"domain": [0, 4], "nice": false, "zero": false}, "axis": {"values": [1, 3], "labelExpr": "datum.value == 3 ? 'T' : 'A'", "labelPadding": 5, "labelFontSize": 12}},
          "y2": {"field": "hi"}
        }
      },
      {
        "data": {"values": [{}]},
        "mark": {"type": "rule", "color": "#cc0000", "strokeWidth": 1.5},
        "encoding": {"y": {"datum": 2}}
      },
      {
        "data": {"name": "sector"},
        "mark": {"type": "line", "color": "#0022dd", "strokeWidth": 1.5, "clip": true},
        "encoding": {
          "x": {"field": "d", "type": "quantitative"},
          "y": {"field": "s", "type": "quantitative"}
        }
      }
    ]
  },
  {
    "width": 584, "height": 45,
    "layer": [
      {
        "data": {"name": "bt"},
        "mark": {"type": "line", "color": "#0000ff", "strokeWidth": 2, "interpolate": "step-after", "clip": true},
        "encoding": {
          "x": {"field": "d", "type": "quantitative", "scale": {"domain": [0, 15], "nice": false}, "axis": {"values": [0,1,2,3,4,5,6,7,8,9,10,11,12,13,14], "labels": false, "minExtent": 0, "maxExtent": 0}},
          "y": {"field": "v", "type": "quantitative", "scale": {"domain": [-20.5, 20.5], "nice": false, "zero": false}, "axis": {"values": [-10, 0, 10], "labelExpr": "datum.value == 0 ? '0' : datum.label + '\u00a0\u00a0'", "labelPadding": 5}}
        }
      },
      {
        "data": {"name": "bz"},
        "mark": {"type": "line", "color": "#ff0000", "strokeWidth": 2, "clip": true},
        "encoding": {
          "x": {"field": "d", "type": "quantitative"},
          "y": {"field": "v", "type": "quantitative"}
        }
      },
      {
        "data": {"values": [{}]},
        "mark": {"type": "rule", "color": "#800000", "strokeWidth": 1},
        "encoding": {"y": {"datum": 0}}
      }
    ]
  },
  {
    "width": 584, "height": 45,
    "layer": [
      {
        "data": {"values": [{}]},
        "mark": {"type": "rule", "color": "#990000", "strokeWidth": 1.5},
        "encoding": {
          "y": {"datum": 0, "type": "quantitative", "scale": {"domain": [-200, 100], "nice": false, "zero": false}, "axis": {"values": [-100, 0], "labelPadding": 4}}
        }
      },
      {
        "data": {"name": "dst"},
        "mark": {"type": "line", "color": "#ff00ff", "strokeWidth": 1.5, "clip": true},
        "encoding": {
          "x": {"field": "d", "type": "quantitative", "scale": {"domain": [0, 15], "nice": false}, "axis": {"values": [0,1,2,3,4,5,6,7,8,9,10,11,12,13,14], "labels": false, "minExtent": 0, "maxExtent": 0}},
          "y": {"field": "v", "type": "quantitative"}
        }
      }
    ]
  },
  {
    "width": 584, "height": 45,
    "data": {"name": "dens"},
    "mark": {"type": "line", "color": "#00f0f0", "strokeWidth": 1.3, "clip": true},
    "encoding": {
      "x": {"field": "d", "type": "quantitative", "scale": {"domain": [0, 15], "nice": false}, "axis": {"values": [0,1,2,3,4,5,6,7,8,9,10,11,12,13,14], "labels": false, "minExtent": 0, "maxExtent": 0}},
      "y": {"field": "v", "type": "quantitative", "scale": {"domain": [0, 80], "nice": false}, "axis": {"values": [20, 40, 60], "labelPadding": 12}}
    }
  },
  {
    "width": 584, "height": 45,
    "layer": [
      {
        "data": {"values": [{}]},
        "mark": {"type": "rule", "color": "#a00000", "strokeWidth": 1.5, "strokeDash": [10, 3, 3, 3]},
        "encoding": {
          "y": {"datum": 4, "type": "quantitative", "scale": {"domain": [0.88, 5.05], "nice": false, "zero": false}, "axis": {"values": [2, 3, 4], "labelExpr": "datum.value == 2 ? '10²' : datum.value == 3 ? '10³' : '10⁴'", "labelPadding": 4}}
        }
      },
      {
        "data": {"name": "ered"},
        "mark": {"type": "line", "color": "#ff0000", "strokeWidth": 2, "clip": true},
        "encoding": {
          "x": {"field": "d", "type": "quantitative", "scale": {"domain": [0, 15], "nice": false}, "axis": {"values": [0,1,2,3,4,5,6,7,8,9,10,11,12,13,14], "labelExpr": "datum.value == 0 ? '6/30' : '7/' + datum.value", "labelAlign": "left", "labelDx": 11, "labelPadding": 4, "labelFont": "DejaVu Sans", "labelFontSize": 12}},
          "y": {"field": "L", "type": "quantitative"}
        }
      },
      {
        "data": {"name": "eblue"},
        "mark": {"type": "line", "color": "#0000ff", "strokeWidth": 2, "clip": true},
        "encoding": {
          "x": {"field": "d", "type": "quantitative"},
          "y": {"field": "L", "type": "quantitative"}
        }
      }
    ]
  }
]
}
